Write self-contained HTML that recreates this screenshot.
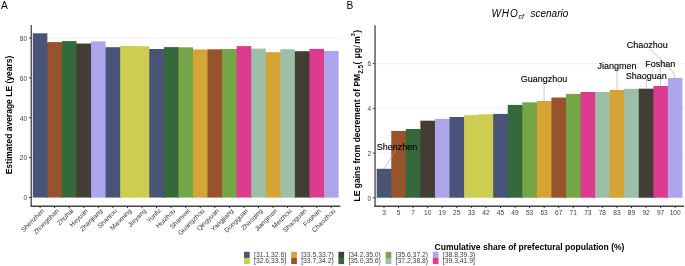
<!DOCTYPE html>
<html><head><meta charset="utf-8"><style>
html,body{margin:0;padding:0;background:#fff;}
body{width:685px;height:266px;overflow:hidden;}
svg{display:block;will-change:transform;font-family:"Liberation Sans",sans-serif;}
</style></head><body>
<svg width="685" height="266" viewBox="0 0 685 266">
<rect width="685" height="266" fill="#fff"/>
<text x="1.0" y="8.9" font-size="10.2" fill="#000">A</text>
<text x="346.6" y="9.1" font-size="10.2" fill="#000">B</text>
<line x1="31.3" x2="340.3" y1="197.50" y2="197.50" stroke="#efefef" stroke-width="1.1"/>
<line x1="31.3" x2="340.3" y1="157.62" y2="157.62" stroke="#efefef" stroke-width="1.1"/>
<line x1="31.3" x2="340.3" y1="117.74" y2="117.74" stroke="#efefef" stroke-width="1.1"/>
<line x1="31.3" x2="340.3" y1="77.86" y2="77.86" stroke="#efefef" stroke-width="1.1"/>
<line x1="31.3" x2="340.3" y1="37.98" y2="37.98" stroke="#efefef" stroke-width="1.1"/>
<rect x="32.80" y="33.30" width="14.56" height="164.20" fill="#4a5478"/>
<rect x="46.36" y="42.60" width="2" height="154.90" fill="#4a5478"/>
<rect x="47.36" y="42.10" width="14.56" height="155.40" fill="#97532b"/>
<rect x="60.92" y="42.60" width="2" height="154.90" fill="#97532b"/>
<rect x="61.92" y="41.10" width="14.56" height="156.40" fill="#35683a"/>
<rect x="75.48" y="44.00" width="2" height="153.50" fill="#35683a"/>
<rect x="76.48" y="43.50" width="14.56" height="154.00" fill="#433d35"/>
<rect x="90.04" y="44.00" width="2" height="153.50" fill="#433d35"/>
<rect x="91.04" y="41.40" width="14.56" height="156.10" fill="#ada5ec"/>
<rect x="104.60" y="47.70" width="2" height="149.80" fill="#ada5ec"/>
<rect x="105.60" y="47.20" width="14.56" height="150.30" fill="#4a5478"/>
<rect x="119.16" y="47.70" width="2" height="149.80" fill="#4a5478"/>
<rect x="120.16" y="45.80" width="14.56" height="151.70" fill="#cdcd52"/>
<rect x="133.72" y="46.70" width="2" height="150.80" fill="#cdcd52"/>
<rect x="134.72" y="46.20" width="14.56" height="151.30" fill="#cdcd52"/>
<rect x="148.28" y="49.50" width="2" height="148.00" fill="#cdcd52"/>
<rect x="149.28" y="49.00" width="14.56" height="148.50" fill="#4a5478"/>
<rect x="162.84" y="49.50" width="2" height="148.00" fill="#4a5478"/>
<rect x="163.84" y="47.10" width="14.56" height="150.40" fill="#35683a"/>
<rect x="177.40" y="47.80" width="2" height="149.70" fill="#35683a"/>
<rect x="178.40" y="47.30" width="14.56" height="150.20" fill="#76a548"/>
<rect x="191.96" y="50.00" width="2" height="147.50" fill="#76a548"/>
<rect x="192.96" y="49.50" width="14.56" height="148.00" fill="#d4a434"/>
<rect x="206.52" y="50.00" width="2" height="147.50" fill="#d4a434"/>
<rect x="207.52" y="49.30" width="14.56" height="148.20" fill="#97532b"/>
<rect x="221.08" y="49.80" width="2" height="147.70" fill="#97532b"/>
<rect x="222.08" y="49.00" width="14.56" height="148.50" fill="#76a548"/>
<rect x="235.64" y="49.50" width="2" height="148.00" fill="#76a548"/>
<rect x="236.64" y="46.10" width="14.56" height="151.40" fill="#dc3b8e"/>
<rect x="250.20" y="49.10" width="2" height="148.40" fill="#dc3b8e"/>
<rect x="251.20" y="48.60" width="14.56" height="148.90" fill="#9dbfa8"/>
<rect x="264.76" y="52.70" width="2" height="144.80" fill="#9dbfa8"/>
<rect x="265.76" y="52.20" width="14.56" height="145.30" fill="#d4a434"/>
<rect x="279.32" y="52.70" width="2" height="144.80" fill="#d4a434"/>
<rect x="280.32" y="49.20" width="14.56" height="148.30" fill="#9dbfa8"/>
<rect x="293.88" y="51.70" width="2" height="145.80" fill="#9dbfa8"/>
<rect x="294.88" y="51.20" width="14.56" height="146.30" fill="#433d35"/>
<rect x="308.44" y="51.70" width="2" height="145.80" fill="#433d35"/>
<rect x="309.44" y="48.90" width="14.56" height="148.60" fill="#dc3b8e"/>
<rect x="323.00" y="51.40" width="2" height="146.10" fill="#dc3b8e"/>
<rect x="324.00" y="50.90" width="14.56" height="146.60" fill="#ada5ec"/>
<line x1="31.25" x2="31.25" y1="24.9" y2="206.6" stroke="#444" stroke-width="1.3"/>
<line x1="30.65" x2="340.3" y1="206.25" y2="206.25" stroke="#444" stroke-width="1.3"/>
<line x1="29" x2="31" y1="197.50" y2="197.50" stroke="#222" stroke-width="0.9"/>
<text x="27.2" y="200.35" font-size="6.6" fill="#404040" text-anchor="end">0</text>
<line x1="29" x2="31" y1="157.62" y2="157.62" stroke="#222" stroke-width="0.9"/>
<text x="27.2" y="160.47" font-size="6.6" fill="#404040" text-anchor="end">20</text>
<line x1="29" x2="31" y1="117.74" y2="117.74" stroke="#222" stroke-width="0.9"/>
<text x="27.2" y="120.59" font-size="6.6" fill="#404040" text-anchor="end">40</text>
<line x1="29" x2="31" y1="77.86" y2="77.86" stroke="#222" stroke-width="0.9"/>
<text x="27.2" y="80.71" font-size="6.6" fill="#404040" text-anchor="end">60</text>
<line x1="29" x2="31" y1="37.98" y2="37.98" stroke="#222" stroke-width="0.9"/>
<text x="27.2" y="40.83" font-size="6.6" fill="#404040" text-anchor="end">80</text>
<line x1="40.08" x2="40.08" y1="206.4" y2="208.1" stroke="#222" stroke-width="0.9"/>
<text transform="translate(41.28,208.00) rotate(-45)" font-size="6.6" fill="#333" text-anchor="end" dominant-baseline="hanging">Shenzhen</text>
<line x1="54.64" x2="54.64" y1="206.4" y2="208.1" stroke="#222" stroke-width="0.9"/>
<text transform="translate(55.84,208.00) rotate(-45)" font-size="6.6" fill="#333" text-anchor="end" dominant-baseline="hanging">Zhongshan</text>
<line x1="69.20" x2="69.20" y1="206.4" y2="208.1" stroke="#222" stroke-width="0.9"/>
<text transform="translate(70.40,208.00) rotate(-45)" font-size="6.6" fill="#333" text-anchor="end" dominant-baseline="hanging">Zhuhai</text>
<line x1="83.76" x2="83.76" y1="206.4" y2="208.1" stroke="#222" stroke-width="0.9"/>
<text transform="translate(84.96,208.00) rotate(-45)" font-size="6.6" fill="#333" text-anchor="end" dominant-baseline="hanging">Heyuan</text>
<line x1="98.32" x2="98.32" y1="206.4" y2="208.1" stroke="#222" stroke-width="0.9"/>
<text transform="translate(99.52,208.00) rotate(-45)" font-size="6.6" fill="#333" text-anchor="end" dominant-baseline="hanging">Zhanjiang</text>
<line x1="112.88" x2="112.88" y1="206.4" y2="208.1" stroke="#222" stroke-width="0.9"/>
<text transform="translate(114.08,208.00) rotate(-45)" font-size="6.6" fill="#333" text-anchor="end" dominant-baseline="hanging">Shantou</text>
<line x1="127.44" x2="127.44" y1="206.4" y2="208.1" stroke="#222" stroke-width="0.9"/>
<text transform="translate(128.64,208.00) rotate(-45)" font-size="6.6" fill="#333" text-anchor="end" dominant-baseline="hanging">Maoming</text>
<line x1="142.00" x2="142.00" y1="206.4" y2="208.1" stroke="#222" stroke-width="0.9"/>
<text transform="translate(143.20,208.00) rotate(-45)" font-size="6.6" fill="#333" text-anchor="end" dominant-baseline="hanging">Jieyang</text>
<line x1="156.56" x2="156.56" y1="206.4" y2="208.1" stroke="#222" stroke-width="0.9"/>
<text transform="translate(157.76,208.00) rotate(-45)" font-size="6.6" fill="#333" text-anchor="end" dominant-baseline="hanging">Yunfu</text>
<line x1="171.12" x2="171.12" y1="206.4" y2="208.1" stroke="#222" stroke-width="0.9"/>
<text transform="translate(172.32,208.00) rotate(-45)" font-size="6.6" fill="#333" text-anchor="end" dominant-baseline="hanging">Huizhou</text>
<line x1="185.68" x2="185.68" y1="206.4" y2="208.1" stroke="#222" stroke-width="0.9"/>
<text transform="translate(186.88,208.00) rotate(-45)" font-size="6.6" fill="#333" text-anchor="end" dominant-baseline="hanging">Shanwei</text>
<line x1="200.24" x2="200.24" y1="206.4" y2="208.1" stroke="#222" stroke-width="0.9"/>
<text transform="translate(201.44,208.00) rotate(-45)" font-size="6.6" fill="#333" text-anchor="end" dominant-baseline="hanging">Guangzhou</text>
<line x1="214.80" x2="214.80" y1="206.4" y2="208.1" stroke="#222" stroke-width="0.9"/>
<text transform="translate(216.00,208.00) rotate(-45)" font-size="6.6" fill="#333" text-anchor="end" dominant-baseline="hanging">Qingyuan</text>
<line x1="229.36" x2="229.36" y1="206.4" y2="208.1" stroke="#222" stroke-width="0.9"/>
<text transform="translate(230.56,208.00) rotate(-45)" font-size="6.6" fill="#333" text-anchor="end" dominant-baseline="hanging">Yangjiang</text>
<line x1="243.92" x2="243.92" y1="206.4" y2="208.1" stroke="#222" stroke-width="0.9"/>
<text transform="translate(245.12,208.00) rotate(-45)" font-size="6.6" fill="#333" text-anchor="end" dominant-baseline="hanging">Dongguan</text>
<line x1="258.48" x2="258.48" y1="206.4" y2="208.1" stroke="#222" stroke-width="0.9"/>
<text transform="translate(259.68,208.00) rotate(-45)" font-size="6.6" fill="#333" text-anchor="end" dominant-baseline="hanging">Zhaoqing</text>
<line x1="273.04" x2="273.04" y1="206.4" y2="208.1" stroke="#222" stroke-width="0.9"/>
<text transform="translate(274.24,208.00) rotate(-45)" font-size="6.6" fill="#333" text-anchor="end" dominant-baseline="hanging">Jiangmen</text>
<line x1="287.60" x2="287.60" y1="206.4" y2="208.1" stroke="#222" stroke-width="0.9"/>
<text transform="translate(288.80,208.00) rotate(-45)" font-size="6.6" fill="#333" text-anchor="end" dominant-baseline="hanging">Meizhou</text>
<line x1="302.16" x2="302.16" y1="206.4" y2="208.1" stroke="#222" stroke-width="0.9"/>
<text transform="translate(303.36,208.00) rotate(-45)" font-size="6.6" fill="#333" text-anchor="end" dominant-baseline="hanging">Shaoguan</text>
<line x1="316.72" x2="316.72" y1="206.4" y2="208.1" stroke="#222" stroke-width="0.9"/>
<text transform="translate(317.92,208.00) rotate(-45)" font-size="6.6" fill="#333" text-anchor="end" dominant-baseline="hanging">Foshan</text>
<line x1="331.28" x2="331.28" y1="206.4" y2="208.1" stroke="#222" stroke-width="0.9"/>
<text transform="translate(332.48,208.00) rotate(-45)" font-size="6.6" fill="#333" text-anchor="end" dominant-baseline="hanging">Chaozhou</text>
<text transform="translate(12.4,115) rotate(-90)" font-size="8.5" font-weight="bold" fill="#000" text-anchor="middle">Estimated average LE (years)</text>
<line x1="375" x2="684" y1="197.80" y2="197.80" stroke="#efefef" stroke-width="1.1"/>
<line x1="375" x2="684" y1="153.06" y2="153.06" stroke="#efefef" stroke-width="1.1"/>
<line x1="375" x2="684" y1="108.32" y2="108.32" stroke="#efefef" stroke-width="1.1"/>
<line x1="375" x2="684" y1="63.58" y2="63.58" stroke="#efefef" stroke-width="1.1"/>
<rect x="376.70" y="168.80" width="14.56" height="28.90" fill="#4a5478"/>
<rect x="390.26" y="169.30" width="2" height="28.40" fill="#4a5478"/>
<rect x="391.26" y="130.90" width="14.56" height="66.80" fill="#97532b"/>
<rect x="404.82" y="131.40" width="2" height="66.30" fill="#97532b"/>
<rect x="405.82" y="129.00" width="14.56" height="68.70" fill="#35683a"/>
<rect x="419.38" y="129.50" width="2" height="68.20" fill="#35683a"/>
<rect x="420.38" y="120.70" width="14.56" height="77.00" fill="#433d35"/>
<rect x="433.94" y="121.20" width="2" height="76.50" fill="#433d35"/>
<rect x="434.94" y="118.90" width="14.56" height="78.80" fill="#ada5ec"/>
<rect x="448.50" y="119.40" width="2" height="78.30" fill="#ada5ec"/>
<rect x="449.50" y="117.00" width="14.56" height="80.70" fill="#4a5478"/>
<rect x="463.06" y="117.50" width="2" height="80.20" fill="#4a5478"/>
<rect x="464.06" y="115.10" width="14.56" height="82.60" fill="#cdcd52"/>
<rect x="477.62" y="115.60" width="2" height="82.10" fill="#cdcd52"/>
<rect x="478.62" y="114.30" width="14.56" height="83.40" fill="#cdcd52"/>
<rect x="492.18" y="114.80" width="2" height="82.90" fill="#cdcd52"/>
<rect x="493.18" y="113.90" width="14.56" height="83.80" fill="#4a5478"/>
<rect x="506.74" y="114.40" width="2" height="83.30" fill="#4a5478"/>
<rect x="507.74" y="104.90" width="14.56" height="92.80" fill="#35683a"/>
<rect x="521.30" y="105.40" width="2" height="92.30" fill="#35683a"/>
<rect x="522.30" y="102.30" width="14.56" height="95.40" fill="#76a548"/>
<rect x="535.86" y="102.80" width="2" height="94.90" fill="#76a548"/>
<rect x="536.86" y="101.00" width="14.56" height="96.70" fill="#d4a434"/>
<rect x="550.42" y="101.50" width="2" height="96.20" fill="#d4a434"/>
<rect x="551.42" y="97.50" width="14.56" height="100.20" fill="#97532b"/>
<rect x="564.98" y="98.00" width="2" height="99.70" fill="#97532b"/>
<rect x="565.98" y="93.90" width="14.56" height="103.80" fill="#76a548"/>
<rect x="579.54" y="94.40" width="2" height="103.30" fill="#76a548"/>
<rect x="580.54" y="92.00" width="14.56" height="105.70" fill="#dc3b8e"/>
<rect x="594.10" y="92.50" width="2" height="105.20" fill="#dc3b8e"/>
<rect x="595.10" y="92.00" width="14.56" height="105.70" fill="#9dbfa8"/>
<rect x="608.66" y="92.50" width="2" height="105.20" fill="#9dbfa8"/>
<rect x="609.66" y="89.90" width="14.56" height="107.80" fill="#d4a434"/>
<rect x="623.22" y="90.40" width="2" height="107.30" fill="#d4a434"/>
<rect x="624.22" y="88.80" width="14.56" height="108.90" fill="#9dbfa8"/>
<rect x="637.78" y="89.30" width="2" height="108.40" fill="#9dbfa8"/>
<rect x="638.78" y="88.70" width="14.56" height="109.00" fill="#433d35"/>
<rect x="652.34" y="89.20" width="2" height="108.50" fill="#433d35"/>
<rect x="653.34" y="86.00" width="14.56" height="111.70" fill="#dc3b8e"/>
<rect x="666.90" y="86.50" width="2" height="111.20" fill="#dc3b8e"/>
<rect x="667.90" y="77.90" width="14.56" height="119.80" fill="#ada5ec"/>
<line x1="375.05" x2="375.05" y1="25.3" y2="206.6" stroke="#444" stroke-width="1.3"/>
<line x1="374.45" x2="684" y1="206.25" y2="206.25" stroke="#444" stroke-width="1.3"/>
<line x1="372.8" x2="374.8" y1="197.80" y2="197.80" stroke="#222" stroke-width="0.9"/>
<text x="371.2" y="200.65" font-size="6.6" fill="#404040" text-anchor="end">0</text>
<line x1="372.8" x2="374.8" y1="153.06" y2="153.06" stroke="#222" stroke-width="0.9"/>
<text x="371.2" y="155.91" font-size="6.6" fill="#404040" text-anchor="end">2</text>
<line x1="372.8" x2="374.8" y1="108.32" y2="108.32" stroke="#222" stroke-width="0.9"/>
<text x="371.2" y="111.17" font-size="6.6" fill="#404040" text-anchor="end">4</text>
<line x1="372.8" x2="374.8" y1="63.58" y2="63.58" stroke="#222" stroke-width="0.9"/>
<text x="371.2" y="66.43" font-size="6.6" fill="#404040" text-anchor="end">6</text>
<line x1="383.98" x2="383.98" y1="206.4" y2="208.1" stroke="#222" stroke-width="0.9"/>
<text x="383.98" y="214.7" font-size="6.6" fill="#404040" text-anchor="middle">3</text>
<line x1="398.54" x2="398.54" y1="206.4" y2="208.1" stroke="#222" stroke-width="0.9"/>
<text x="398.54" y="214.7" font-size="6.6" fill="#404040" text-anchor="middle">5</text>
<line x1="413.10" x2="413.10" y1="206.4" y2="208.1" stroke="#222" stroke-width="0.9"/>
<text x="413.10" y="214.7" font-size="6.6" fill="#404040" text-anchor="middle">7</text>
<line x1="427.66" x2="427.66" y1="206.4" y2="208.1" stroke="#222" stroke-width="0.9"/>
<text x="427.66" y="214.7" font-size="6.6" fill="#404040" text-anchor="middle">10</text>
<line x1="442.22" x2="442.22" y1="206.4" y2="208.1" stroke="#222" stroke-width="0.9"/>
<text x="442.22" y="214.7" font-size="6.6" fill="#404040" text-anchor="middle">19</text>
<line x1="456.78" x2="456.78" y1="206.4" y2="208.1" stroke="#222" stroke-width="0.9"/>
<text x="456.78" y="214.7" font-size="6.6" fill="#404040" text-anchor="middle">25</text>
<line x1="471.34" x2="471.34" y1="206.4" y2="208.1" stroke="#222" stroke-width="0.9"/>
<text x="471.34" y="214.7" font-size="6.6" fill="#404040" text-anchor="middle">33</text>
<line x1="485.90" x2="485.90" y1="206.4" y2="208.1" stroke="#222" stroke-width="0.9"/>
<text x="485.90" y="214.7" font-size="6.6" fill="#404040" text-anchor="middle">42</text>
<line x1="500.46" x2="500.46" y1="206.4" y2="208.1" stroke="#222" stroke-width="0.9"/>
<text x="500.46" y="214.7" font-size="6.6" fill="#404040" text-anchor="middle">45</text>
<line x1="515.02" x2="515.02" y1="206.4" y2="208.1" stroke="#222" stroke-width="0.9"/>
<text x="515.02" y="214.7" font-size="6.6" fill="#404040" text-anchor="middle">49</text>
<line x1="529.58" x2="529.58" y1="206.4" y2="208.1" stroke="#222" stroke-width="0.9"/>
<text x="529.58" y="214.7" font-size="6.6" fill="#404040" text-anchor="middle">53</text>
<line x1="544.14" x2="544.14" y1="206.4" y2="208.1" stroke="#222" stroke-width="0.9"/>
<text x="544.14" y="214.7" font-size="6.6" fill="#404040" text-anchor="middle">63</text>
<line x1="558.70" x2="558.70" y1="206.4" y2="208.1" stroke="#222" stroke-width="0.9"/>
<text x="558.70" y="214.7" font-size="6.6" fill="#404040" text-anchor="middle">67</text>
<line x1="573.26" x2="573.26" y1="206.4" y2="208.1" stroke="#222" stroke-width="0.9"/>
<text x="573.26" y="214.7" font-size="6.6" fill="#404040" text-anchor="middle">71</text>
<line x1="587.82" x2="587.82" y1="206.4" y2="208.1" stroke="#222" stroke-width="0.9"/>
<text x="587.82" y="214.7" font-size="6.6" fill="#404040" text-anchor="middle">73</text>
<line x1="602.38" x2="602.38" y1="206.4" y2="208.1" stroke="#222" stroke-width="0.9"/>
<text x="602.38" y="214.7" font-size="6.6" fill="#404040" text-anchor="middle">78</text>
<line x1="616.94" x2="616.94" y1="206.4" y2="208.1" stroke="#222" stroke-width="0.9"/>
<text x="616.94" y="214.7" font-size="6.6" fill="#404040" text-anchor="middle">83</text>
<line x1="631.50" x2="631.50" y1="206.4" y2="208.1" stroke="#222" stroke-width="0.9"/>
<text x="631.50" y="214.7" font-size="6.6" fill="#404040" text-anchor="middle">89</text>
<line x1="646.06" x2="646.06" y1="206.4" y2="208.1" stroke="#222" stroke-width="0.9"/>
<text x="646.06" y="214.7" font-size="6.6" fill="#404040" text-anchor="middle">92</text>
<line x1="660.62" x2="660.62" y1="206.4" y2="208.1" stroke="#222" stroke-width="0.9"/>
<text x="660.62" y="214.7" font-size="6.6" fill="#404040" text-anchor="middle">97</text>
<line x1="675.18" x2="675.18" y1="206.4" y2="208.1" stroke="#222" stroke-width="0.9"/>
<text x="675.18" y="214.7" font-size="6.6" fill="#404040" text-anchor="middle">100</text>
<g transform="rotate(-90)" font-weight="bold" fill="#000" font-size="8.5"><text x="-201.4" y="360.4">LE gains from decrement of PM</text><text x="-73.8" y="363.3" font-size="6.4">2.5</text><text x="-64.6" y="360.4">(</text><text x="-58.3" y="360.4">μg</text><text x="-47.6" y="360.4" font-weight="normal">/</text><text x="-43.8" y="360.4">m</text><text x="-36.3" y="355.0" font-size="5.5">3</text><text x="-32.7" y="360.4">)</text></g>
<text x="491.4" y="17" font-size="10" font-style="italic" fill="#000" letter-spacing="1.0">WHO</text>
<text x="518.5" y="19.2" font-size="7" font-style="italic" fill="#000">cf</text>
<text x="530.5" y="17" font-size="10" font-style="italic" fill="#000">scenario</text>
<line x1="384.0" y1="168.8" x2="395.8" y2="150.1" stroke="#a8a8a8" stroke-width="0.6"/>
<line x1="544.1" y1="84" x2="544.1" y2="101" stroke="#a8a8a8" stroke-width="0.6"/>
<line x1="617" y1="69.5" x2="617" y2="89.8" stroke="#a8a8a8" stroke-width="0.6"/>
<line x1="646.3" y1="79" x2="646.3" y2="88.7" stroke="#a8a8a8" stroke-width="0.6"/>
<line x1="660.4" y1="67.9" x2="660.4" y2="86" stroke="#a8a8a8" stroke-width="0.6"/>
<path d="M650.2,49.3 L667.5,65.8 Q674.8,72.6 674.8,77.6" fill="none" stroke="#a8a8a8" stroke-width="0.6"/>
<text x="376.7" y="149.7" font-size="9" fill="#000" stroke="#000" stroke-width="0.12">Shenzhen</text>
<text x="520.7" y="82.2" font-size="9" fill="#000" stroke="#000" stroke-width="0.12">Guangzhou</text>
<text x="597.5" y="69" font-size="9" fill="#000" stroke="#000" stroke-width="0.12">Jiangmen</text>
<text x="625.8" y="78.6" font-size="9" fill="#000" stroke="#000" stroke-width="0.12">Shaoguan</text>
<text x="645.2" y="66.6" font-size="9" fill="#000" stroke="#000" stroke-width="0.12">Foshan</text>
<text x="626.8" y="48" font-size="9" fill="#000" stroke="#000" stroke-width="0.12">Chaozhou</text>
<text x="434.5" y="250.3" font-size="8.55" font-weight="bold" fill="#000">Cumulative share of prefectural population (%)</text>
<rect x="244.00" y="251.80" width="5.7" height="6.15" fill="#4a5478"/>
<text x="254.00" y="256.80" font-size="6.8" fill="#3d3d3d">[31.1,32.6)</text>
<rect x="244.00" y="257.95" width="5.7" height="6.15" fill="#cdcd52"/>
<text x="254.00" y="262.95" font-size="6.8" fill="#3d3d3d">[32.6,33.5)</text>
<rect x="291.20" y="251.80" width="5.7" height="6.15" fill="#d4a434"/>
<text x="301.20" y="256.80" font-size="6.8" fill="#3d3d3d">[33.5,33.7)</text>
<rect x="291.20" y="257.95" width="5.7" height="6.15" fill="#97532b"/>
<text x="301.20" y="262.95" font-size="6.8" fill="#3d3d3d">[33.7,34.2)</text>
<rect x="338.40" y="251.80" width="5.7" height="6.15" fill="#433d35"/>
<text x="348.40" y="256.80" font-size="6.8" fill="#3d3d3d">[34.2,35.0)</text>
<rect x="338.40" y="257.95" width="5.7" height="6.15" fill="#35683a"/>
<text x="348.40" y="262.95" font-size="6.8" fill="#3d3d3d">[35.0,35.6)</text>
<rect x="385.60" y="251.80" width="5.7" height="6.15" fill="#76a548"/>
<text x="395.60" y="256.80" font-size="6.8" fill="#3d3d3d">[35.6,37.2)</text>
<rect x="385.60" y="257.95" width="5.7" height="6.15" fill="#9dbfa8"/>
<text x="395.60" y="262.95" font-size="6.8" fill="#3d3d3d">[37.2,38.8)</text>
<rect x="432.80" y="251.80" width="5.7" height="6.15" fill="#ada5ec"/>
<text x="442.80" y="256.80" font-size="6.8" fill="#3d3d3d">[38.8,39.3)</text>
<rect x="432.80" y="257.95" width="5.7" height="6.15" fill="#dc3b8e"/>
<text x="442.80" y="262.95" font-size="6.8" fill="#3d3d3d">[39.3,41.9]</text>
</svg>
</body></html>
